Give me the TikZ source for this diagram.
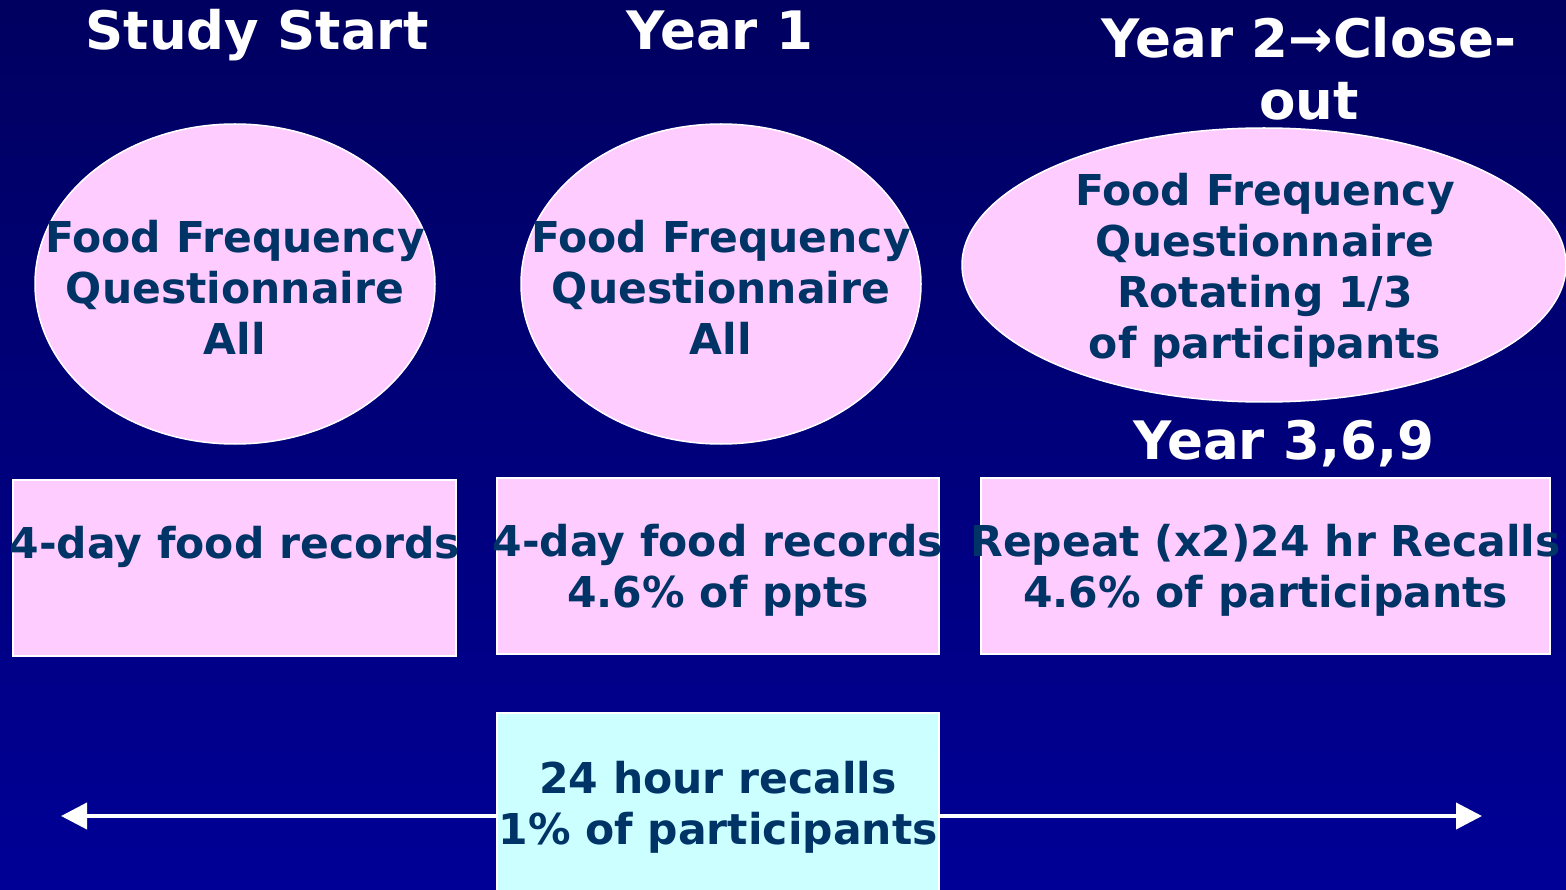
\documentclass[tikz,border=0pt]{standalone}
\usepackage{fontspec}
\setmainfont{DejaVu Sans}
\definecolor{navytop}{RGB}{0,0,96}
\definecolor{navybottom}{RGB}{0,0,150}
\definecolor{inkblue}{RGB}{0,51,102}
\definecolor{softpink}{RGB}{255,204,255}
\definecolor{softcyan}{RGB}{204,255,255}
\usetikzlibrary{shapes.geometric, arrows.meta}

\begin{document}
\begin{tikzpicture}[x=1pt, y=-1pt,
    phase/.style={text=white, font=\bfseries\fontsize{53}{62}\selectfont, align=center, inner sep=0pt},
    oval/.style={ellipse, draw=white, line width=1.5pt, fill=softpink, inner sep=0pt},
    card/.style={rectangle, draw=white, line width=1.5pt, fill=softpink, inner sep=0pt},
    body/.style={text=inkblue, font=\bfseries\fontsize{42.5}{51}\selectfont, align=center, inner sep=0pt},
    span/.style={{Triangle[length=26pt, width=26pt]}-{Triangle[length=26pt, width=26pt]}, line width=4pt, white}
  ]
  % backdrop
  \fill[top color=navytop, bottom color=navybottom] (0,0) rectangle (1566,890);
  \useasboundingbox (0,0) rectangle (1566,890);

  % column headings
  \node[phase] (start) at (257,35) {Study Start};
  \node[phase] (yr1) at (720,31) {Year 1};
  \node[phase] (yr2) at (1309,69) {Year 2→Close-\\out};

  % questionnaire ovals
  \node[oval, minimum width=400pt, minimum height=320pt] (ffq0) at (235,284) {};
  \node[body] at (235,287) {Food Frequency\\Questionnaire\\All};
  \node[oval, minimum width=400pt, minimum height=320pt] (ffq1) at (721,284) {};
  \node[body] at (721,287) {Food Frequency\\Questionnaire\\All};
  \node[oval, minimum width=604pt, minimum height=274pt] (ffq2) at (1264,265) {};
  \node[body] at (1265,270) {Food Frequency\\Questionnaire\\Rotating 1/3\\of participants};

  \node[phase] (yr369) at (1284,444) {Year 3,6,9};

  % food record / recall boxes
  \node[card, minimum width=443pt, minimum height=176pt] (rec0) at (234.5,568) {};
  \node[body] at (235,547) {4-day food records};
  \node[card, minimum width=442pt, minimum height=176pt] (rec1) at (718,566) {};
  \node[body] at (718,570) {4-day food records\\4.6\% of ppts};
  \node[card, minimum width=569pt, minimum height=176pt] (rec2) at (1265.5,566) {};
  \node[body] at (1265.5,570) {Repeat (x2)24 hr Recalls\\4.6\% of participants};

  % timeline under the recall box
  \coordinate (tlL) at (61,816);
  \coordinate (tlR) at (1482,816);
  \draw[span] (tlL) -- (tlR);
  \node[card, fill=softcyan, minimum width=442pt, minimum height=200pt, anchor=north] (recall) at (718,712) {};
  \node[body] at (718,807) {24 hour recalls\\1\% of participants};
\end{tikzpicture}
\end{document}
